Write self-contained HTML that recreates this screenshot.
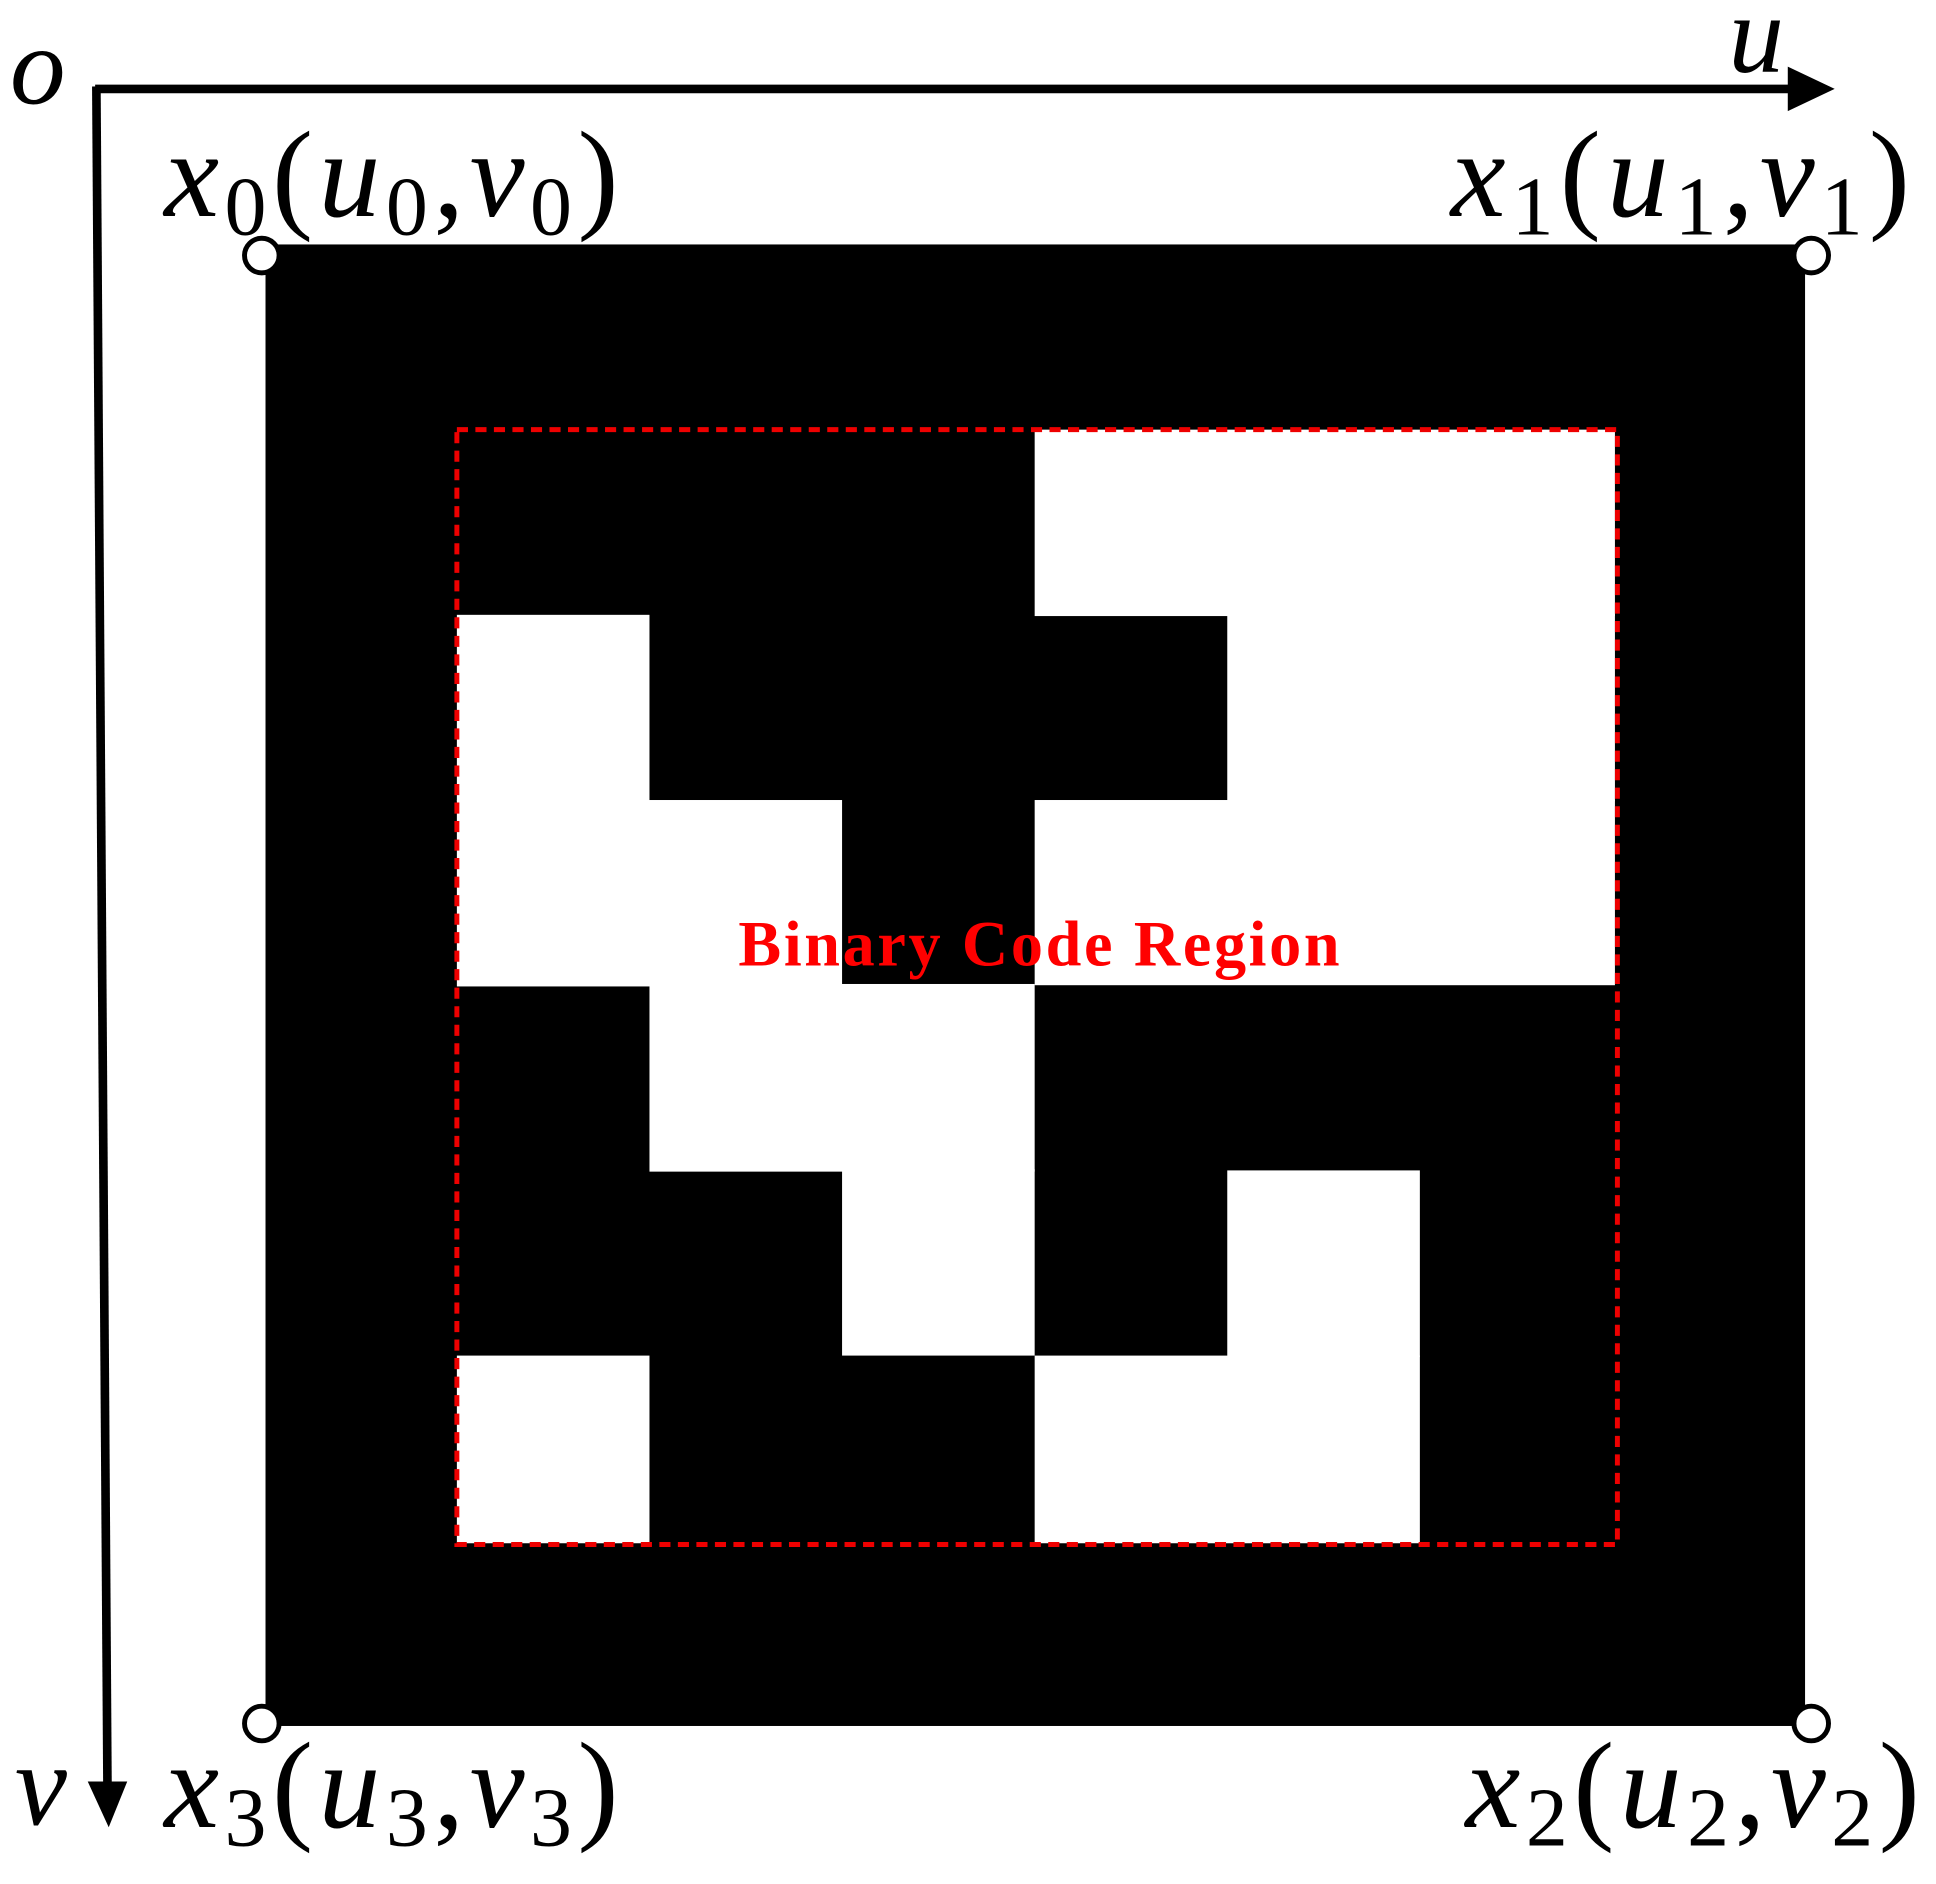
<!DOCTYPE html>
<html><head><meta charset="utf-8"><style>html,body{margin:0;padding:0;background:#fff}svg{display:block}text{font-family:"Liberation Serif","Times New Roman",serif}</style></head>
<body>
<svg width="1936" height="1884" viewBox="0 0 1568 1526" xmlns="http://www.w3.org/2000/svg">
<rect width="1568" height="1526" fill="#fff"/>
<rect x="215" y="198" width="1247" height="1200" fill="#000"/>
<g fill="#fff">
<rect x="838" y="348" width="470" height="151"/>
<rect x="370" y="498" width="156" height="151"/>
<rect x="994" y="497" width="314" height="152"/>
<rect x="370" y="648" width="312" height="151"/>
<rect x="838" y="648" width="470" height="150"/>
<rect x="526" y="797" width="312" height="152"/>
<rect x="682" y="947" width="156" height="151"/>
<rect x="994" y="948" width="156" height="151"/>
<rect x="370" y="1098" width="156" height="152"/>
<rect x="838" y="1098" width="312" height="152"/>
</g>
<rect x="370" y="348" width="940" height="903" fill="none" stroke="#e00" stroke-width="4" stroke-dasharray="9,6"/>
<text x="598" y="782" font-weight="bold" font-size="52" fill="#f00" textLength="487">Binary Code Region</text>
<line x1="77" y1="72" x2="1460" y2="72" stroke="#000" stroke-width="7"/>
<polygon points="1448,54 1486,72 1448,90" fill="#000"/>
<line x1="78" y1="70" x2="87" y2="1450" stroke="#000" stroke-width="7"/>
<polygon points="71,1443 103,1443 88,1480" fill="#000"/>
<g fill="#fff" stroke="#000" stroke-width="4">
<circle cx="212" cy="207" r="14"/><circle cx="1467" cy="207" r="14"/>
<circle cx="212" cy="1396" r="14"/><circle cx="1467" cy="1396" r="14"/>
</g>
<g font-size="100" fill="#000">
<text x="8" y="84" font-style="italic" font-size="90">o</text>
<text x="1400" y="58" font-style="italic" font-size="90">u</text>
<text x="12" y="1478" font-style="italic" font-size="95">v</text>
<text x="133" y="175" textLength="368"><tspan font-style="italic">x</tspan><tspan font-size="68" dy="15">0</tspan><tspan dy="-15">(</tspan><tspan font-style="italic">u</tspan><tspan font-size="68" dy="15">0</tspan><tspan dy="-15">,</tspan><tspan font-style="italic">v</tspan><tspan font-size="68" dy="15">0</tspan><tspan dy="-15">)</tspan></text>
<text x="1175" y="175" textLength="372"><tspan font-style="italic">x</tspan><tspan font-size="68" dy="15">1</tspan><tspan dy="-15">(</tspan><tspan font-style="italic">u</tspan><tspan font-size="68" dy="15">1</tspan><tspan dy="-15">,</tspan><tspan font-style="italic">v</tspan><tspan font-size="68" dy="15">1</tspan><tspan dy="-15">)</tspan></text>
<text x="133" y="1480" textLength="368"><tspan font-style="italic">x</tspan><tspan font-size="68" dy="15">3</tspan><tspan dy="-15">(</tspan><tspan font-style="italic">u</tspan><tspan font-size="68" dy="15">3</tspan><tspan dy="-15">,</tspan><tspan font-style="italic">v</tspan><tspan font-size="68" dy="15">3</tspan><tspan dy="-15">)</tspan></text>
<text x="1187" y="1480" textLength="368"><tspan font-style="italic">x</tspan><tspan font-size="68" dy="15">2</tspan><tspan dy="-15">(</tspan><tspan font-style="italic">u</tspan><tspan font-size="68" dy="15">2</tspan><tspan dy="-15">,</tspan><tspan font-style="italic">v</tspan><tspan font-size="68" dy="15">2</tspan><tspan dy="-15">)</tspan></text>
</g>
</svg>
</body></html>
